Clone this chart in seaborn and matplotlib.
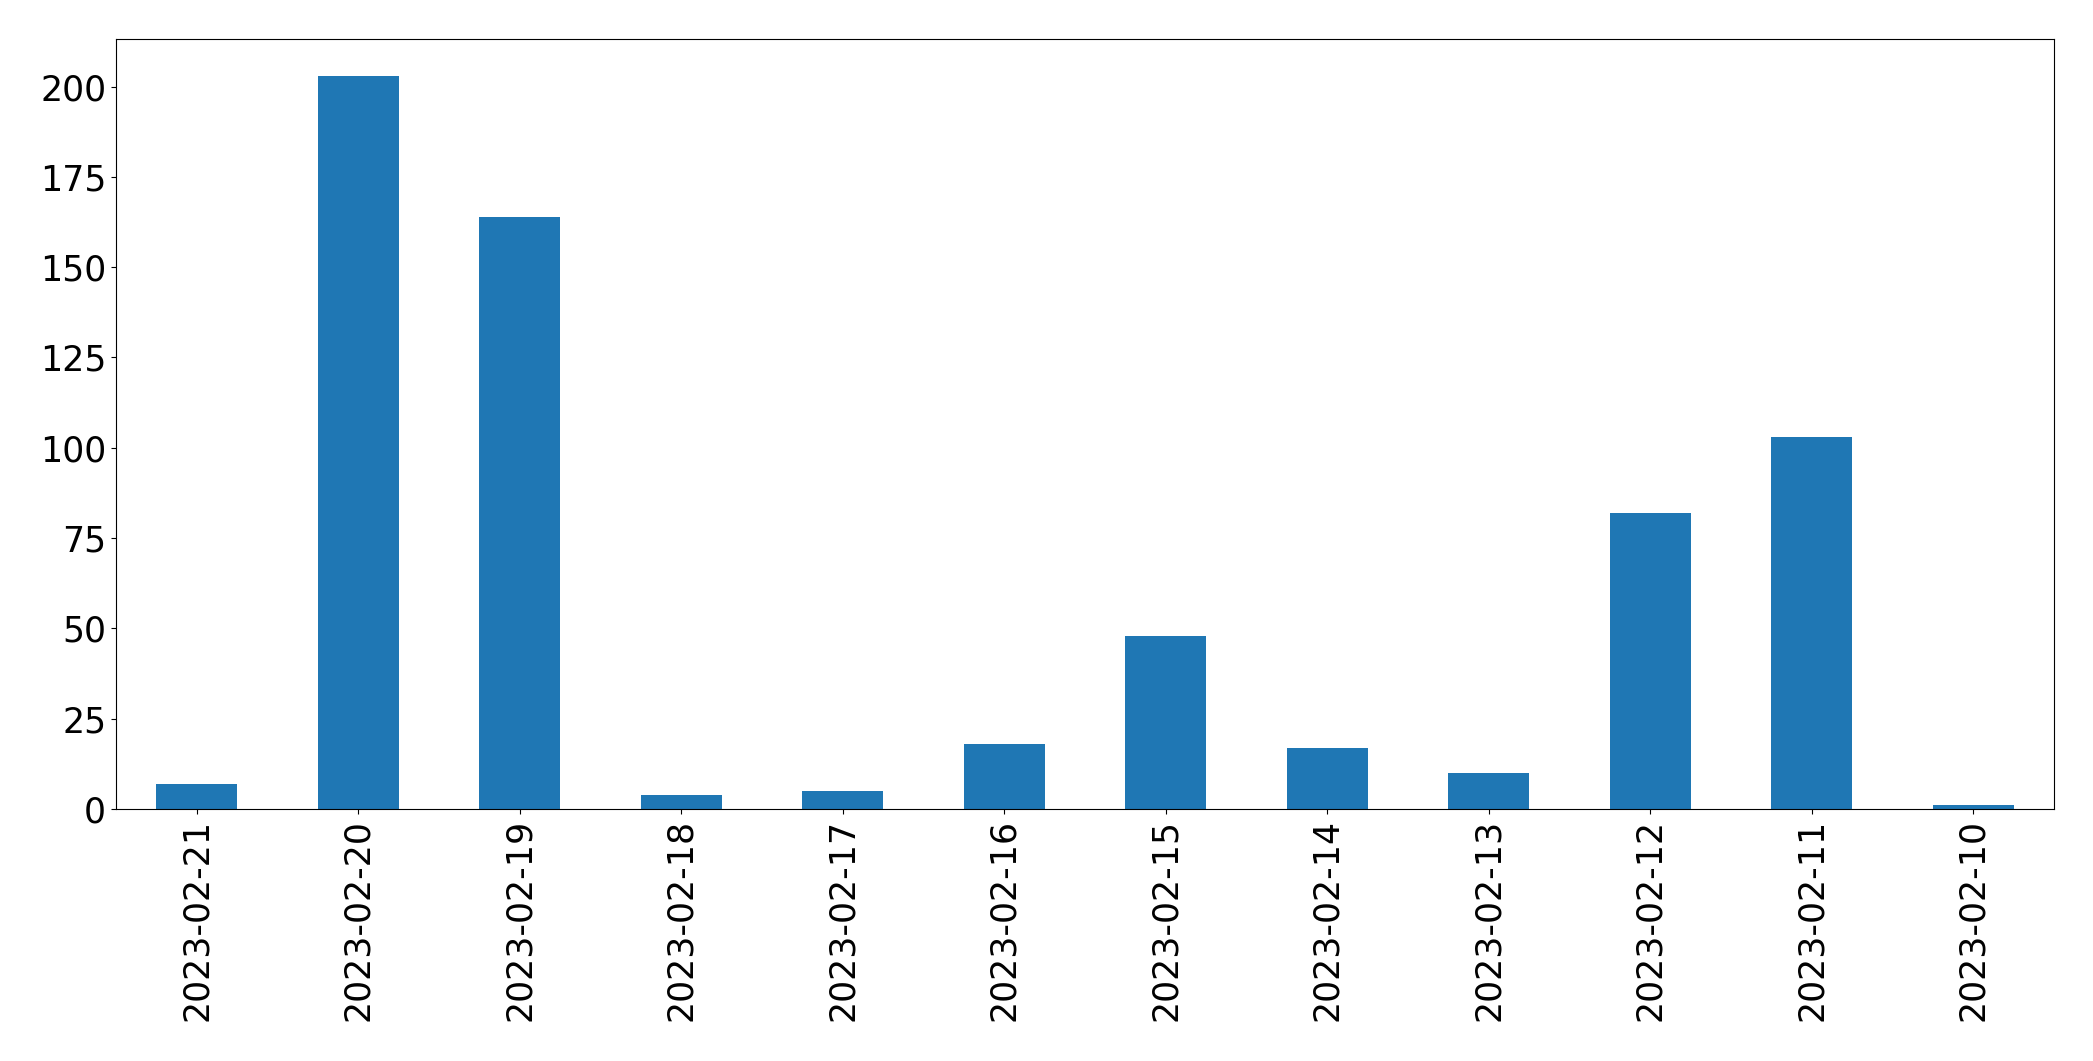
import pandas as pd
import matplotlib
matplotlib.use("Agg")
import matplotlib.pyplot as plt
import seaborn as sns

# dados
datas = ['2023-02-21', '2023-02-20', '2023-02-19', '2023-02-18', '2023-02-17', '2023-02-16',
         '2023-02-15', '2023-02-14', '2023-02-13', '2023-02-12', '2023-02-11', '2023-02-10']
contagens = [7, 203, 164, 4, 5, 18, 48, 17, 10, 82, 103, 1]

df = pd.DataFrame({'data': datas, 'contagem': contagens})

fig, ax = plt.subplots(figsize=(20.93, 10.61), dpi=100)
fig.subplots_adjust(left=0.0554, right=0.9814, top=0.9632, bottom=0.2375)

sns.barplot(data=df, x='data', y='contagem', order=datas, color='#1f77b4',
            saturation=1, width=0.5, ax=ax)

ax.set_xlim(-0.5, len(datas) - 0.5)
ax.set_xlabel('')
ax.set_ylabel('')
ax.tick_params(axis='both', labelsize=25)
ax.tick_params(axis='x', labelrotation=90)

fig.savefig('out.png', dpi=100)
